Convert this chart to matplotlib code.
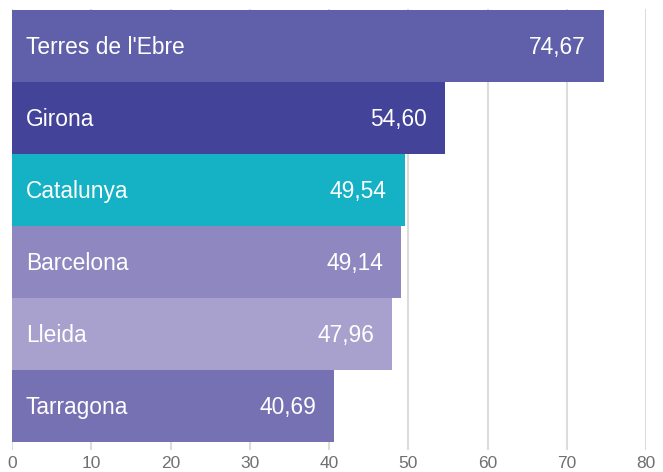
import matplotlib
matplotlib.use('Agg')
import matplotlib.pyplot as plt

regions = ["Terres de l'Ebre", "Girona", "Catalunya", "Barcelona", "Lleida", "Tarragona"]
values = [74.67, 54.60, 49.54, 49.14, 47.96, 40.69]
colors = ['#6060aa', '#43439a', '#14b2c4', '#8f87c0', '#a9a1cd', '#7671b3']
ticks = [0, 10, 20, 30, 40, 50, 60, 70, 80]

plt.rcParams['font.family'] = ['Liberation Sans', 'DejaVu Sans']

fig = plt.figure(figsize=(6.63, 4.72), dpi=100)
W, H = 663.0, 472.0
ax = fig.add_axes([12 / W, (H - 450) / H, (646 - 12) / W, (450 - 9) / H])

ypos = list(range(len(regions)))
ax.barh(ypos, values, height=1.0, color=colors, zorder=2)

for y, name, v in zip(ypos, regions, values):
    ax.annotate(name, xy=(0, y), xytext=(14, -1.5), textcoords='offset pixels',
                color='white', fontsize=16.4, va='center', ha='left', zorder=3)
    ax.annotate(('%.2f' % v).replace('.', ','), xy=(v, y), xytext=(-18, -1.5),
                textcoords='offset pixels', color='white', fontsize=16.4,
                va='center', ha='right', zorder=3)

ax.set_xlim(0, 80)
ax.set_ylim(5.5 + 8 / 72.0, -0.5 - 1 / 72.0)
ax.set_xticks(ticks)
ax.set_xticklabels([str(t) for t in ticks])
ax.set_yticks([])
ax.grid(axis='x', color='#dcdcdc', linewidth=1.5, zorder=1)
ax.tick_params(axis='x', length=0, pad=4.5, labelsize=12.5, labelcolor='#707070')
for s in ax.spines.values():
    s.set_visible(False)

fig.savefig('out.png', dpi=100)
